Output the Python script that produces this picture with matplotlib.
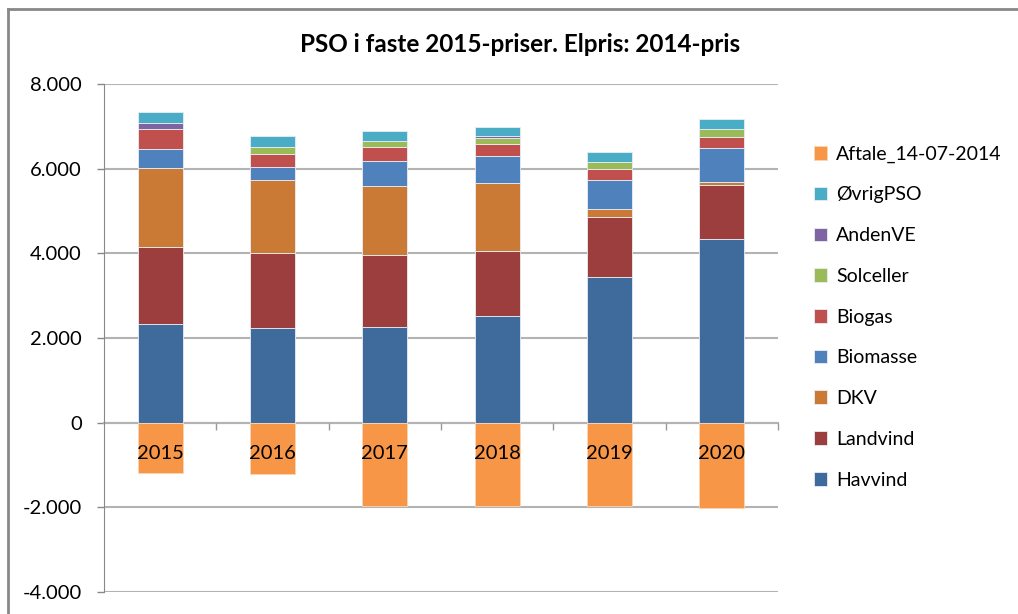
import matplotlib.pyplot as plt
from matplotlib.lines import Line2D
import numpy as np

plt.rcParams['font.family'] = ['Lato', 'DejaVu Sans']

years = ['2015', '2016', '2017', '2018', '2019', '2020']

# stacked series, bottom to top
havvind = [2320, 2230, 2270, 2530, 3436, 4332]
landvind = [1820, 1770, 1684, 1527, 1415, 1288]
dkv = [1868, 1731, 1643, 1596, 196, 57]
biomasse = [455, 300, 590, 644, 684, 816]
biogas = [470, 315, 315, 283, 252, 260]
solceller = [0, 158, 149, 150, 180, 181]
andenve = [136, 0, 0, 30, 0, 0]
oevrigpso = [258, 267, 236, 229, 229, 236]
aftale = [-1180, -1205, -1965, -1965, -1965, -2010]

series = [
    ('Havvind', havvind, '#3F6A9C'),
    ('Landvind', landvind, '#9C3E3D'),
    ('DKV', dkv, '#CB7A35'),
    ('Biomasse', biomasse, '#4F81BD'),
    ('Biogas', biogas, '#C0504D'),
    ('Solceller', solceller, '#9BBB59'),
    ('AndenVE', andenve, '#8064A2'),
    ('ØvrigPSO', oevrigpso, '#4BACC6'),
]

fig = plt.figure(figsize=(10.18, 6.14), dpi=100)
ax = fig.add_axes([104 / 1018, 1 - 592 / 614, (778 - 104) / 1018, (592 - 84) / 614])

x = np.arange(len(years))
width = 0.4
bottom = np.zeros(len(years))
handles = []
for name, vals, col in series:
    b = ax.bar(x, vals, width, bottom=bottom, color=col, edgecolor='#E8EEF5',
               linewidth=0.6, label=name, zorder=3)
    bottom += np.array(vals)
    handles.append(b)
b = ax.bar(x, aftale, width, color='#F79646', edgecolor='#FBD5B5', linewidth=0.6,
           label='Aftale_14-07-2014', zorder=3)
handles.append(b)

ax.set_xlim(-0.5, len(years) - 0.5)
ax.set_ylim(-4000, 8000)
ax.set_yticks(np.arange(-4000, 8001, 2000))
ax.set_yticklabels([f'{v:,}'.replace(',', '.') for v in range(-4000, 8001, 2000)])
ax.yaxis.grid(True, color='#B3B3B3', linewidth=1.5, zorder=0)
ax.tick_params(axis='y', length=5, width=1, color='#888888', labelsize=14.5, pad=11)

ax.spines['bottom'].set_position(('data', 0))
ax.spines['bottom'].set_color('#B3B3B3')
ax.spines['bottom'].set_linewidth(1.5)
ax.spines['bottom'].set_zorder(2)
ax.spines['left'].set_color('#888888')
ax.spines['top'].set_visible(False)
ax.spines['right'].set_visible(False)

ax.set_xticks(x)
ax.set_xticklabels(years)
ax.set_xticks(np.arange(0.5, len(years) - 0.4, 1), minor=True)
ax.tick_params(axis='x', which='major', length=0, labelsize=14.5, pad=16)
ax.tick_params(axis='x', which='minor', length=5, width=1, color='#999999')
ax.xaxis.set_zorder(4)

fig.text(520 / 1018, 1 - 45 / 614, 'PSO i faste 2015-priser. Elpris: 2014-pris',
         ha='center', va='center', fontsize=17.5, fontweight='bold')

leg = fig.legend(handles[::-1], [h.get_label() for h in handles[::-1]],
                 loc='upper left', bbox_to_anchor=(796 / 1018, 1 - 128 / 614),
                 frameon=False, fontsize=14, labelspacing=1.22,
                 handlelength=0.7, handleheight=0.7, handletextpad=0.45)

# outer chart frame (left and top edges only are inside the picture)
fig.add_artist(Line2D([8 / 1018, 8 / 1018], [0, 1 - 9 / 614], transform=fig.transFigure,
                      color='#888888', linewidth=2))
fig.add_artist(Line2D([8 / 1018, 1], [1 - 9 / 614, 1 - 9 / 614], transform=fig.transFigure,
                      color='#888888', linewidth=2))

fig.savefig('out.png', dpi=100)
